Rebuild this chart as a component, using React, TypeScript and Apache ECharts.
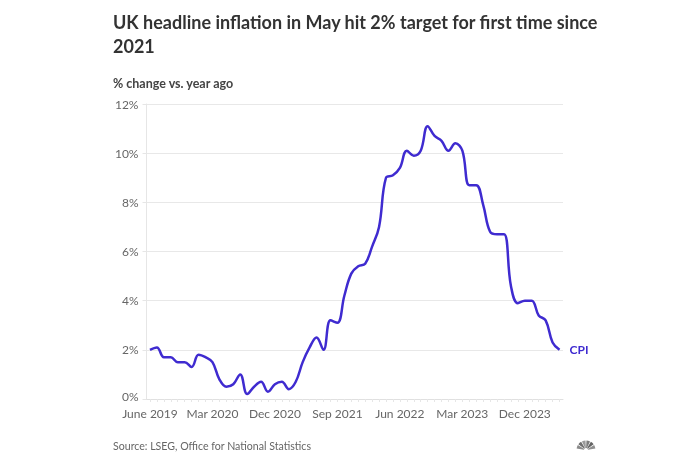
import React, { useEffect, useRef } from "react";
import * as echarts from "echarts";

const monthNames = ["Jan", "Feb", "Mar", "Apr", "May", "Jun", "Jul", "Aug", "Sep", "Oct", "Nov", "Dec"];

// Monthly categories, June 2019 .. May 2024
const categories: string[] = [];
for (let i = 0; i < 60; i++) {
  const m = (5 + i) % 12;
  const y = 2019 + Math.floor((5 + i) / 12);
  categories.push(i === 0 ? "June 2019" : `${monthNames[m]} ${y}`);
}

// UK CPI, % change vs. year ago
const cpi2019 = [2.0, 2.1, 1.7, 1.7, 1.5, 1.5, 1.3];
const cpi2020 = [1.8, 1.7, 1.5, 0.8, 0.5, 0.6, 1.0, 0.2, 0.5, 0.7, 0.3, 0.6];
const cpi2021 = [0.7, 0.4, 0.7, 1.5, 2.1, 2.5, 2.0, 3.2, 3.1, 4.2, 5.1, 5.4];
const cpi2022 = [5.5, 6.2, 7.0, 9.0, 9.1, 9.4, 10.1, 9.9, 10.1, 11.1, 10.7, 10.5];
const cpi2023 = [10.1, 10.4, 10.1, 8.7, 8.7, 7.9, 6.8, 6.7, 6.7, 4.6, 3.9, 4.0];
const cpi2024 = [4.0, 3.4, 3.2, 2.3, 2.0];
const cpiValues = [...cpi2019, ...cpi2020, ...cpi2021, ...cpi2022, ...cpi2023, ...cpi2024];

const yTicks = [0, 2, 4, 6, 8, 10, 12];

const FONT = "Lato, 'Noto Sans', sans-serif";
const LINE = "#3f2bd0";

export default function App() {
  const ref = useRef<HTMLDivElement>(null);
  useEffect(() => {
    const chart = echarts.init(ref.current!, null, { renderer: "svg" });
    const featherColors = ["#8a8a8a", "#6f6f6f", "#9a9a9a", "#7d7d7d", "#656565", "#8f8f8f"];
    const feathers: any[] = [0, 1, 2, 3, 4, 5].map((i) => ({
      type: "sector",
      shape: {
        cx: 586,
        cy: 450,
        r: 9.5,
        r0: 2,
        startAngle: Math.PI + 0.1 + (i * (Math.PI - 0.2)) / 6 + 0.05,
        endAngle: Math.PI + 0.1 + ((i + 1) * (Math.PI - 0.2)) / 6 - 0.05,
      },
      style: { fill: featherColors[i] },
    }));
    chart.setOption({
      animation: false,
      textStyle: { fontFamily: FONT },
      title: [
        {
          text: "UK headline inflation in May hit 2% target for first time since\n2021",
          left: 113,
          top: 10,
          padding: 0,
          textStyle: { fontFamily: FONT, fontSize: 18, fontWeight: 700, color: "#333", lineHeight: 24 },
        },
        {
          text: "% change vs. year ago",
          left: 113,
          top: 77,
          padding: 0,
          textStyle: { fontFamily: FONT, fontSize: 12.5, fontWeight: 700, color: "#444" },
        },
        {
          text: "Source: LSEG, Office for National Statistics",
          left: 113,
          top: 440,
          padding: 0,
          textStyle: { fontFamily: FONT, fontSize: 10.6, fontWeight: 400, color: "#666" },
        },
      ],
      graphic: feathers,
      grid: { left: 146.5, right: 131, top: 104, bottom: 73, containLabel: false },
      xAxis: {
        type: "category",
        data: categories,
        boundaryGap: true,
        axisLine: { show: true, lineStyle: { color: "#e0e0e0" } },
        axisTick: { show: true, interval: 0, length: 3, alignWithLabel: true, lineStyle: { color: "#e6e6e6" } },
        axisLabel: { interval: 8, color: "#666", fontSize: 12, lineHeight: 12, fontFamily: FONT, margin: 8 },
      },
      yAxis: {
        type: "value",
        min: 0,
        max: 12,
        interval: 2,
        axisLine: { show: true, lineStyle: { color: "#e6e6e6" } },
        axisTick: { show: true, length: 4, lineStyle: { color: "#e6e6e6" } },
        splitLine: { show: true, lineStyle: { color: "#e8e8e8" } },
        axisLabel: {
          color: "#666",
          fontSize: 12,
          lineHeight: 12,
          fontFamily: FONT,
          margin: 8,
          formatter: (v: number) => (v === 0 ? "{z|0%}" : yTicks.includes(v) ? `${v}%` : ""),
          rich: {
            z: { color: "#666", fontSize: 12, lineHeight: 12, fontFamily: FONT, padding: [0, 0, 5, 0] },
          },
        },
      },
      series: [
        {
          type: "line",
          name: "CPI",
          data: cpiValues,
          smooth: 0.4,
          symbol: "none",
          lineStyle: { color: LINE, width: 2.5 },
          endLabel: {
            show: true,
            formatter: "CPI",
            color: LINE,
            fontWeight: 700,
            fontSize: 12,
            fontFamily: FONT,
            distance: 10,
          },
        },
      ],
    });
    return () => chart.dispose();
  }, []);
  return <div ref={ref} style={{ position: "fixed", left: 0, top: 0, width: 694, height: 472 }} />;
}
